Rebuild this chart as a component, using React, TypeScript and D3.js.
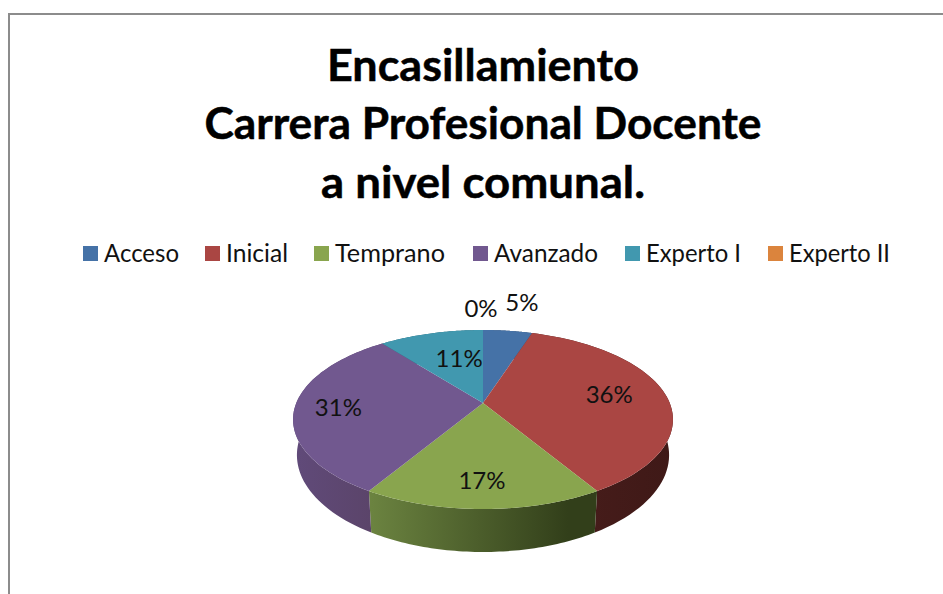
import React from 'react';
import * as d3 from 'd3';

const categories = ['Acceso', 'Inicial', 'Temprano', 'Avanzado', 'Experto I', 'Experto II'];
const values = [5.0, 36.4, 17.2, 30.8, 10.6, 0];
const colors = ['#4572a7', '#aa4643', '#89a54e', '#71588f', '#4198af', '#db843d'];
const titleLines = ['Encasillamiento', 'Carrera Profesional Docente', 'a nivel comunal.'];

// layout
const legendX = [83, 205, 314, 473, 625, 768];
const legendWidth = [75, 62, 110, 104, 95, 101];
const titleY = [81, 139, 198];
const titleWidth = [312, 557, 324];
const labelRadius = [1.47, 0.69, 0.773, 0.78, 0.594, 1.364];
const labelDx = [5, 0, -1, 2, 9, -2];
const labelDy = [-1, -2, 0, 0, 0, 0];
// side wall gradient stops per slice: [left colour, right colour]
const wallColors: Record<number, string[]> = {
  0: ['#2e4c70', '#2e4c70'],
  1: ['#4a1e1c', '#3f1917'],
  2: ['#6b8340', '#323f1a'],
  3: ['#604a79', '#5a4367'],
  4: ['#2b6676', '#2b6676'],
  5: ['#92582a', '#92582a'],
};

// the pie is a tilted disc in perspective, so the top and bottom rims are
// projected circles and not just ellipses with the apex in the middle
const c = -0.1844;
const cx = 483;
const topRim = { r: 186.7, a: 12.16, b: 403 };
const bottomRim = { r: 182.9, a: 13.1, b: 437.1 };

function project(rim: { r: number; a: number; b: number }, t: number, f = 1): [number, number] {
  const u = -Math.cos(t) * f;
  const v = Math.sin(t) * f;
  const w = 1 + c * u;
  return [cx + (rim.r * v) / w, (rim.a * u + rim.b) / w];
}

function arcPoints(rim: { r: number; a: number; b: number }, t0: number, t1: number) {
  return d3.range(0, 61).map((i) => project(rim, t0 + ((t1 - t0) * i) / 60));
}

export default function App() {
  const arcs = d3.pie<number>().sort(null)(values);
  const line = d3.line();

  return (
    <svg width={943} height={594} style={{ position: 'absolute', left: 0, top: 0, background: '#fff' }}
      fontFamily="Lato, Carlito, sans-serif">
      <defs>
        {arcs.map((a, i) => {
          const pts = arcPoints(bottomRim, a.startAngle, a.endAngle);
          const xs = pts.map((p) => p[0]);
          const x0 = d3.min(xs) as number;
          const x1 = d3.max(xs) as number;
          return (
            <linearGradient key={i} id={`wall${i}`} gradientUnits="userSpaceOnUse"
              x1={x0} x2={i === 2 ? x0 + (x1 - x0) * 0.88 : x1 + 1} y1={0} y2={0}>
              <stop offset="0" stopColor={wallColors[i][0]} />
              <stop offset="1" stopColor={wallColors[i][1]} />
            </linearGradient>
          );
        })}
      </defs>

      {/* frame */}
      <path d="M9,594V14H943" fill="none" stroke="#8c8c8c" strokeWidth={2} />

      {titleLines.map((t, i) => (
        <text key={t} x={483 - titleWidth[i] / 2} y={titleY[i]} fontSize={44.3} fontWeight={700} fill="#000"
          stroke="#000" strokeWidth={0.5} textLength={titleWidth[i]} lengthAdjust="spacingAndGlyphs">
          {t}
        </text>
      ))}

      {categories.map((name, i) => (
        <g key={name}>
          <rect x={legendX[i]} y={246} width={15} height={15} fill={colors[i]} />
          <text x={legendX[i] + 21} y={262} fontSize={25} fill="#111"
            textLength={legendWidth[i]} lengthAdjust="spacingAndGlyphs">{name}</text>
        </g>
      ))}

      {/* side walls first, the top face covers what is behind it */}
      {arcs.map((a, i) => {
        if (a.endAngle === a.startAngle) return null;
        const top = arcPoints(topRim, a.startAngle, a.endAngle);
        const bottom = arcPoints(bottomRim, a.startAngle, a.endAngle).reverse();
        return <path key={i} d={line([...top, ...bottom]) + 'Z'} fill={`url(#wall${i})`} />;
      })}

      {arcs.map((a, i) => {
        if (a.endAngle === a.startAngle) return null;
        const rim = arcPoints(topRim, a.startAngle, a.endAngle);
        const apex = project(topRim, 0, 0);
        return <path key={i} d={line([apex, ...rim]) + 'Z'} fill={colors[i]} />;
      })}

      {arcs.map((a, i) => {
        const mid = (a.startAngle + a.endAngle) / 2;
        const [x, y] = project(topRim, mid, labelRadius[i]);
        return (
          <text key={i} x={x + labelDx[i]} y={y + labelDy[i]} dy="0.35em" textAnchor="middle" fontSize={24} fill="#111">
            {d3.format('.0f')(values[i])}%
          </text>
        );
      })}
    </svg>
  );
}
